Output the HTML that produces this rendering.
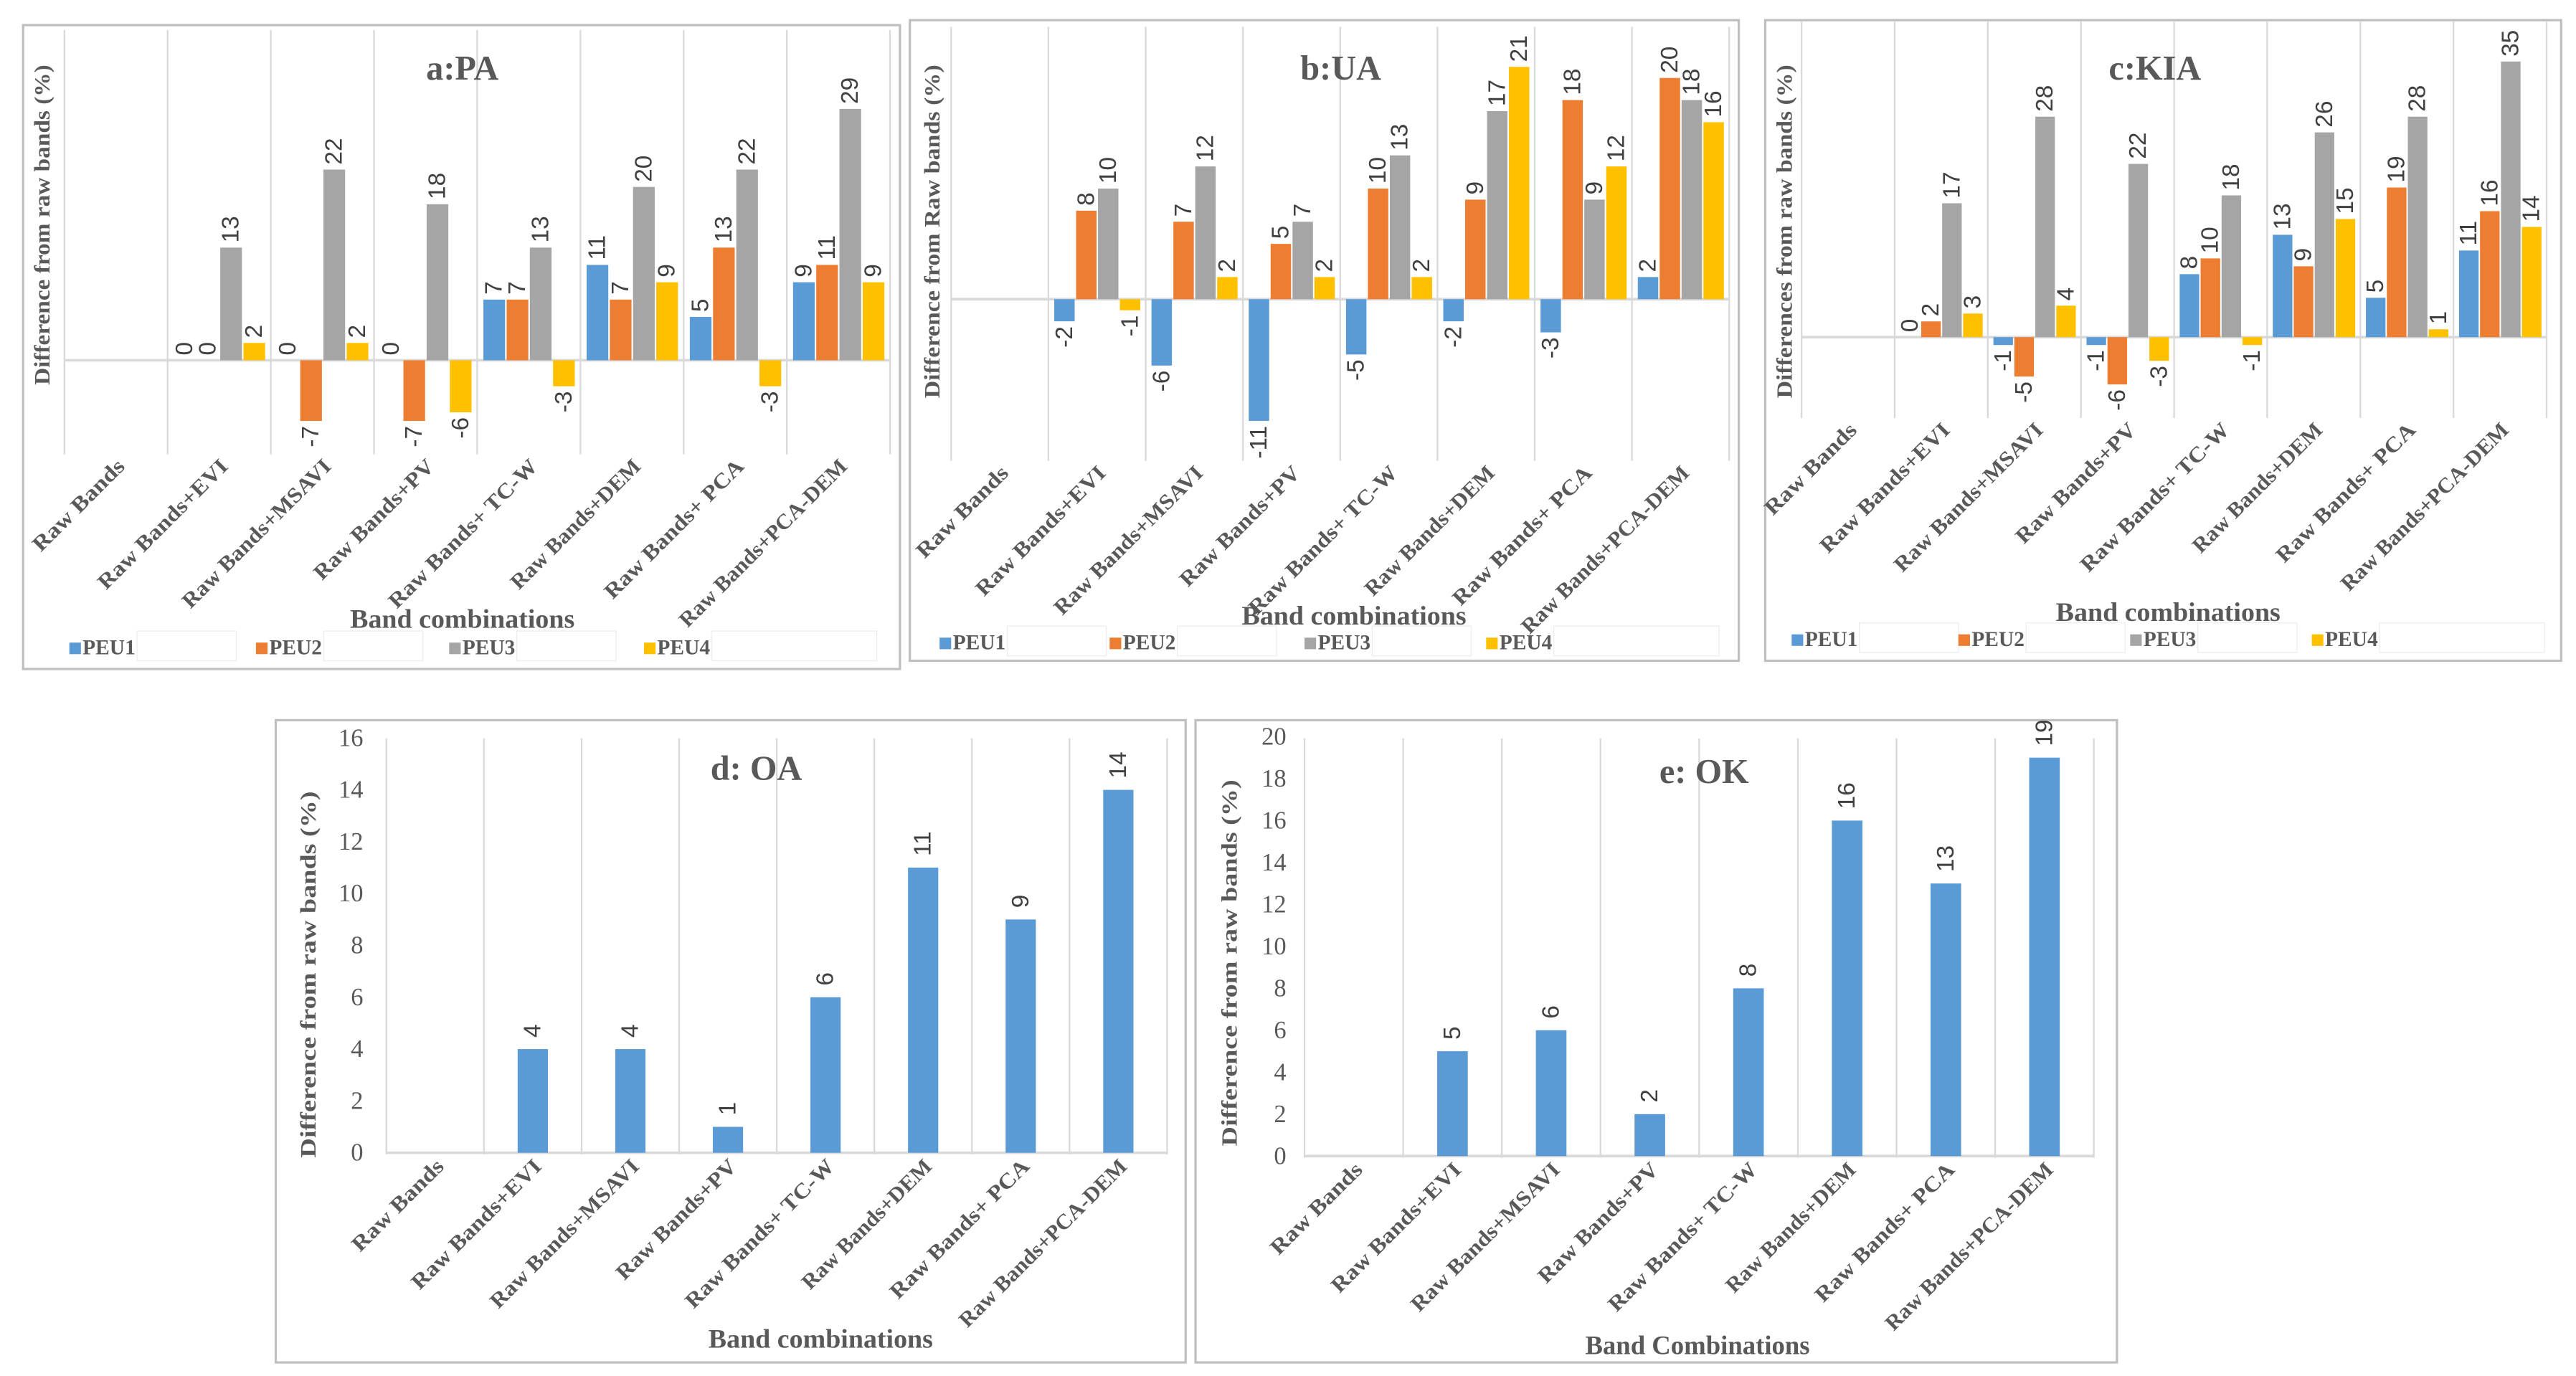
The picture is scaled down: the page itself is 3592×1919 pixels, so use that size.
<!DOCTYPE html>
<html><head><meta charset="utf-8"><style>
html,body{margin:0;padding:0;background:#fff;}
svg{display:block;}
.ser{font-family:"Liberation Serif",serif;font-weight:bold;fill:#595959;}
.num{font-family:"Liberation Sans",sans-serif;fill:#404040;}
</style></head><body>
<svg id="fig" xmlns="http://www.w3.org/2000/svg" width="3592" height="1919" viewBox="0 0 1560 833"></svg>
<script>
const categories = ["Raw Bands","Raw Bands+EVI","Raw Bands+MSAVI","Raw Bands+PV","Raw Bands+ TC-W","Raw Bands+DEM","Raw Bands+ PCA","Raw Bands+PCA-DEM"];
const seriesNames = ["PEU1","PEU2","PEU3","PEU4"];
const paPEU1 = [null,0,0,0,7,11,5,9];
const paPEU2 = [null,0,-7,-7,7,7,13,11];
const paPEU3 = [null,13,22,18,13,20,22,29];
const paPEU4 = [null,2,2,-6,-3,9,-3,9];
const uaPEU1 = [null,-2,-6,-11,-5,-2,-3,2];
const uaPEU2 = [null,8,7,5,10,9,18,20];
const uaPEU3 = [null,10,12,7,13,17,9,18];
const uaPEU4 = [null,-1,2,2,2,21,12,16];
const kiaPEU1 = [null,0,-1,-1,8,13,5,11];
const kiaPEU2 = [null,2,-5,-6,10,9,19,16];
const kiaPEU3 = [null,17,28,22,18,26,28,35];
const kiaPEU4 = [null,3,4,-3,-1,15,1,14];
const oaValues = [null,4,4,1,6,11,9,14];
const okValues = [null,5,6,2,8,16,13,19];
const oaTicks = [0,2,4,6,8,10,12,14,16];
const okTicks = [0,2,4,6,8,10,12,14,16,18,20];

const colors = ["#5B9BD5","#ED7D31","#A5A5A5","#FFC000"];
const svg = document.getElementById('fig');
const NS = "http://www.w3.org/2000/svg";
function mk(tag, attrs, parent){
  const e = document.createElementNS(NS, tag);
  for (const k in attrs) e.setAttribute(k, attrs[k]);
  (parent||svg).appendChild(e);
  return e;
}
function txt(parent, s, attrs){
  const t = mk('text', attrs, parent);
  t.textContent = s;
  return t;
}

function frame(g, cfg, name){
  const r = mk('rect',{x:cfg.bx,y:cfg.by,width:cfg.bw,height:cfg.bh,fill:"#fff",stroke:"#bfbfbf","stroke-width":1.4},g);
  
  
  for (let i=0;i<=8;i++){
    const x = cfg.x0 + i*cfg.catW;
    const l = mk('line',{x1:x,x2:x,y1:cfg.top,y2:cfg.bottom,stroke:"#d9d9d9","stroke-width":1},g);
    
    
  }
  const z = mk('line',{x1:cfg.x0,x2:cfg.x0+8*cfg.catW,y1:cfg.zeroY,y2:cfg.zeroY,stroke:"#d9d9d9","stroke-width":1.6},g);
  
  
  const t = txt(g, cfg.title, {x:cfg.titleX,y:cfg.titleY,"text-anchor":"middle","font-size":21,class:"ser"});
  
  
  const yt = txt(g, cfg.ytitle, {x:0,y:0,"text-anchor":"middle","font-size":13.5,class:"ser",transform:`translate(${cfg.ytX},${cfg.ytY}) rotate(-90)`,textLength:cfg.ytLen,lengthAdjust:"spacingAndGlyphs"});
  
  
  const xt = txt(g, cfg.xtitle, {x:cfg.xtX,y:cfg.xtY,"text-anchor":"middle","font-size":16,class:"ser",textLength:136,lengthAdjust:"spacingAndGlyphs"});
  
  
  categories.forEach((c,i)=>{
    const cx = cfg.x0 + (i+0.5)*cfg.catW + 6;
    const cy = cfg.bottom + 8;
    const ct = txt(g, c, {x:0,y:0,"text-anchor":"end","font-size":13,class:"ser",transform:`translate(${cx},${cy}) rotate(-45)`,textLength:c.length*8.1,lengthAdjust:"spacingAndGlyphs"});
    
    
  });
}

function drawGrouped(cfg, series, name){
  const g = mk('g',{});
  
  
  frame(g, cfg, name);
  const yv = v => cfg.zeroY - v*cfg.unit;
  series.forEach((arr,k)=>{
    arr.forEach((v,i)=>{
      if (v===null) return;
      const bw = cfg.catW*0.21;
      const x = cfg.x0 + i*cfg.catW + cfg.catW*(0.06 + k*0.225);
      const y1 = Math.min(yv(v), cfg.zeroY), h = Math.abs(yv(v)-cfg.zeroY);
      const b = mk('rect',{x:x,y:y1,width:bw,height:h,fill:colors[k]},g);
      
      
      const cx = x + bw/2;
      const ly = v>=0 ? yv(v)-3 : yv(v)+3;
      const lab = txt(g, String(v), {x:0,y:0,"text-anchor":v>=0?"start":"end","dominant-baseline":"central","font-size":14.5,class:"num",transform:`translate(${cx},${ly}) rotate(-90)`});
      
      
    });
  });
  cfg.legendX.forEach((lx,k)=>{
    const sq = mk('rect',{x:lx,y:cfg.legY-7,width:7,height:7,fill:colors[k]},g);
    
    
    const lt = txt(g, seriesNames[k], {x:lx+8,y:cfg.legY,"font-size":13,class:"ser",textLength:32,lengthAdjust:"spacingAndGlyphs"});
    
    
    const box = mk('rect',{x:lx+41,y:cfg.legY-14,width:k===3?100:60,height:18,fill:"none",stroke:"#eeeeee","stroke-width":0.6},g);
    
    
  });
}

function drawSimple(cfg, values, ticks, name){
  const g = mk('g',{});
  
  
  frame(g, cfg, name);
  const yv = v => cfg.zeroY - v*cfg.unit;
  ticks.forEach(t=>{
    const tl = txt(g, String(t), {x:cfg.tickX,y:yv(t),"text-anchor":"end","dominant-baseline":"central","font-size":15,"font-family":"Liberation Serif, serif",fill:"#595959"});
    
    
  });
  values.forEach((v,i)=>{
    if (v===null) return;
    const bw = cfg.catW*0.31;
    const x = cfg.x0 + (i+0.5)*cfg.catW - bw/2;
    const b = mk('rect',{x:x,y:yv(v),width:bw,height:cfg.zeroY-yv(v),fill:colors[0]},g);
    
    
    const lab = txt(g, String(v), {x:0,y:0,"text-anchor":"start","dominant-baseline":"central","font-size":14.5,class:"num",transform:`translate(${x+bw/2},${yv(v)-7}) rotate(-90)`});
    
    
  });
}

drawGrouped({bx:14,by:15,bw:531,bh:390,x0:39,catW:62.5,zeroY:218,unit:5.25,top:18,bottom:275,
  title:"a:PA",titleX:280,titleY:48,ytitle:"Difference from raw bands (%)",ytX:30,ytY:136,ytLen:194,
  xtitle:"Band combinations",xtX:280,xtY:380,legendX:[42,155,272,390],legY:396},
  [paPEU1,paPEU2,paPEU3,paPEU4],"chart-pa");
drawGrouped({bx:551,by:12,bw:502,bh:388,x0:576,catW:58.9,zeroY:181,unit:6.7,top:16,bottom:279,
  title:"b:UA",titleX:812,titleY:48,ytitle:"Difference from Raw  bands (%)",ytX:569,ytY:140,ytLen:202,
  xtitle:"Band combinations",xtX:820,xtY:378,legendX:[569,672,790,900],legY:393},
  [uaPEU1,uaPEU2,uaPEU3,uaPEU4],"chart-ua");
drawGrouped({bx:1069,by:12,bw:482,bh:388,x0:1091,catW:56.4,zeroY:204,unit:4.77,top:13,bottom:253,
  title:"c:KIA",titleX:1305,titleY:48,ytitle:"Differences from raw  bands (%)",ytX:1085,ytY:140,ytLen:202,
  xtitle:"Band combinations",xtX:1313,xtY:376,legendX:[1085,1186,1290,1400],legY:391},
  [kiaPEU1,kiaPEU2,kiaPEU3,kiaPEU4],"chart-kia");
drawSimple({bx:167,by:436,bw:551,bh:389,x0:234,catW:59.1,zeroY:698,unit:15.7,top:447,bottom:699,
  title:"d: OA",titleX:458,titleY:472,ytitle:"Difference from raw bands (%)",ytX:191,ytY:590,ytLen:222,
  xtitle:"Band combinations",xtX:497,xtY:816,legendX:[],legY:0,tickX:220},
  oaValues, oaTicks, "chart-oa");
drawSimple({bx:724,by:436,bw:558,bh:389,x0:790,catW:59.75,zeroY:700,unit:12.7,top:447,bottom:701,
  title:"e: OK",titleX:1032,titleY:474,ytitle:"Difference from raw bands (%)",ytX:749,ytY:583,ytLen:222,
  xtitle:"Band Combinations",xtX:1028,xtY:820,legendX:[],legY:0,tickX:779},
  okValues, okTicks, "chart-ok");
</script>
</body></html>
